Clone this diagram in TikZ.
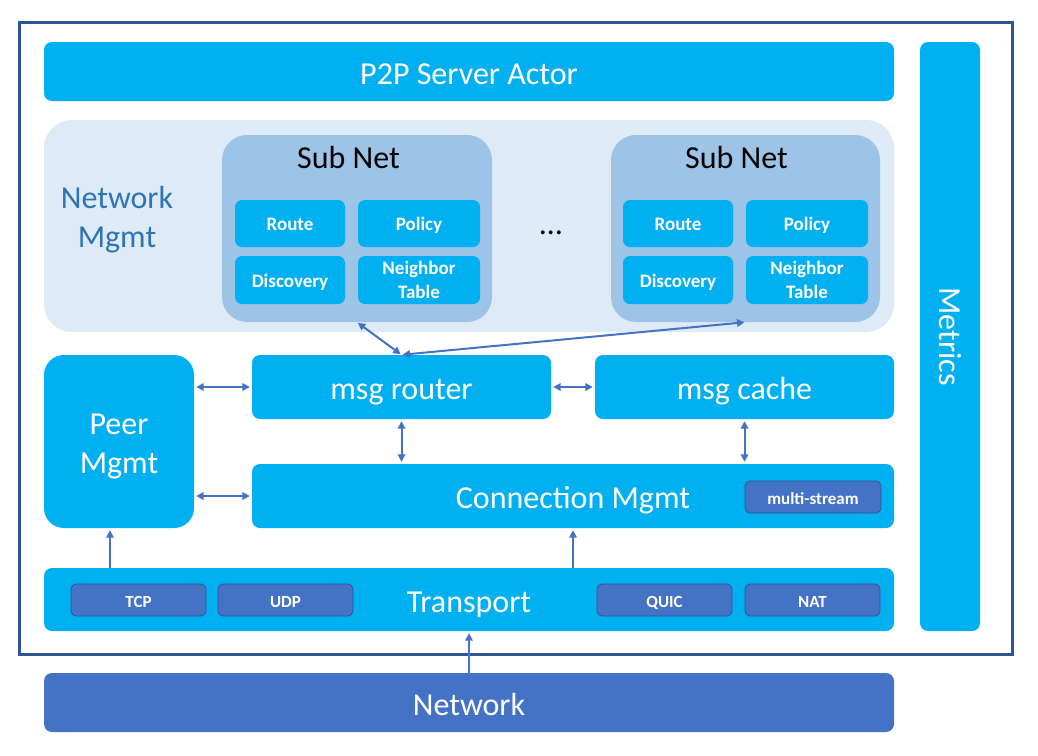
\documentclass[tikz,border=0pt]{standalone}
\usepackage{fontspec}
\setmainfont{Carlito}
\usetikzlibrary{arrows.meta,calc}
\definecolor{bright}{HTML}{00B0F0}
\definecolor{darkbox}{HTML}{4472C4}
\definecolor{darkline}{HTML}{2F5597}
\definecolor{framec}{HTML}{2F5597}
\definecolor{mgmtbg}{HTML}{DEEBF7}
\definecolor{subbg}{HTML}{9DC3E6}
\definecolor{mgmttext}{HTML}{2E75B6}
\definecolor{arrowc}{HTML}{4472C4}
\begin{document}
\begin{tikzpicture}[x=1pt,y=-1pt,
  sz/.style 2 args={minimum width=#1pt, minimum height=#2pt},
  big/.style={font=\fontsize{32}{39}\selectfont},
  bigline/.style={big, text height=30.4pt, text depth=5.4pt},
  box/.style={fill=bright, rounded corners=8pt, inner sep=0pt, text=white, align=center, bigline},
  smallbox/.style={fill=bright, rounded corners=7pt, inner sep=0pt, text=white, align=center, font=\fontsize{19}{23.5}\selectfont\bfseries, text height=17pt, text depth=2.5pt},
  twoline/.style={fill=bright, rounded corners=7pt, inner sep=0pt, text=white, align=center, font=\fontsize{19}{23.5}\selectfont\bfseries},
  tagbox/.style={fill=darkbox, draw=darkline, line width=0.8pt, rounded corners=5pt, inner sep=0pt, text=white, font=\fontsize{17}{20}\selectfont\bfseries, text height=17pt, text depth=1.7pt},
  arr/.style={draw=arrowc, line width=2pt, {Triangle[length=7.5pt,width=7.5pt]}-{Triangle[length=7.5pt,width=7.5pt]}},
  uparr/.style={draw=arrowc, line width=2pt, -{Triangle[length=7.5pt,width=7.5pt]}}
]
\useasboundingbox (0,0) rectangle (1038,755);
\fill[white] (0,0) rectangle (1038,755);

% outer frame
\node[draw=framec, line width=3pt, sz={993}{632}, inner sep=0pt] (frame) at (515.5,338) {};

% top bar and metrics
\node[box, sz={850}{59}] (p2p) at (469,71.5) {P2P Server Actor};
\node[box, sz={60}{589}] (metricsbar) at (950,336.5) {};
\node[text=white, big, rotate=-90, inner sep=0pt] (metrics) at (metricsbar.center) {Metrics};

% network mgmt area
\node[fill=mgmtbg, rounded corners=28pt, sz={850}{212}, inner sep=0pt] (netmgmt) at (469,226) {};
\node[text=mgmttext, big, align=center, inner sep=0pt] (netlabel) at (117,220) {Network\\Mgmt};

% subnet 1
\node[fill=subbg, rounded corners=25pt, sz={270}{187}, inner sep=0pt] (sub1) at (357,228.5) {};
\node[big, inner sep=0pt] (sub1title) at (348.5,158) {Sub Net};
\node[smallbox, sz={110}{47}] (route1) at (290,223.5) {Route};
\node[smallbox, sz={122}{47}] (policy1) at (419,223.5) {Policy};
\node[smallbox, sz={110}{48}] (disc1) at (290,280) {Discovery};
\node[twoline, sz={122}{48}] (neigh1) at (419,280) {Neighbor\\Table};

% dots
\node[big, inner sep=0pt] (dots) at (551,233) {…};

% subnet 2
\node[fill=subbg, rounded corners=25pt, sz={269}{187}, inner sep=0pt] (sub2) at (745.5,228.5) {};
\node[big, inner sep=0pt] (sub2title) at (736.5,158) {Sub Net};
\node[smallbox, sz={110}{47}] (route2) at (678,223.5) {Route};
\node[smallbox, sz={122}{47}] (policy2) at (807,223.5) {Policy};
\node[smallbox, sz={110}{48}] (disc2) at (678,280) {Discovery};
\node[twoline, sz={122}{48}] (neigh2) at (807,280) {Neighbor\\Table};

% middle row
\node[fill=bright, rounded corners=20pt, sz={150}{173}, inner sep=0pt] (peer) at (119,441.5) {};
\node[text=white, big, align=center, inner sep=0pt] (peertext) at (119,446) {Peer\\Mgmt};
\node[box, sz={299}{64}] (router) at (401.5,387) {msg router};
\node[box, sz={299}{64}] (cache) at (744.5,387) {msg cache};
\node[box, sz={642}{64}] (conn) at (573,496) {Connection Mgmt};
\node[tagbox, sz={136}{32}] (ms) at (813,497) {multi-stream};

% transport
\node[box, sz={850}{63}] (transport) at (469,599.5) {Transport};
\node[tagbox, sz={135}{32}] (tcp) at (138.5,600) {TCP};
\node[tagbox, sz={135}{32}] (udp) at (285.5,600) {UDP};
\node[tagbox, sz={135}{32}] (quic) at (664.5,600) {QUIC};
\node[tagbox, sz={135}{32}] (nat) at (812.5,600) {NAT};

% network
\node[box, fill=darkbox, sz={850}{59}] (network) at (469,702.5) {Network};

% connectors
\draw[arr, shorten <=1pt, shorten >=1pt] (sub1.south) -- (router.north);
\draw[arr, shorten <=1pt, shorten >=1pt] (sub2.south) -- (router.north);
\draw[arr, shorten <=2pt, shorten >=2pt] (peer.east |- router.west) -- (router.west);
\draw[arr, shorten <=2pt, shorten >=2pt] (peer.east |- conn.west) -- (conn.west);
\draw[arr, shorten <=2pt, shorten >=2pt] (router.east) -- (cache.west);
\draw[arr, shorten <=2pt, shorten >=2pt] (router.south) -- (router.south |- conn.north);
\draw[arr, shorten <=2pt, shorten >=2pt] (cache.south) -- (cache.south |- conn.north);
\draw[uparr, shorten >=2pt] ([xshift=-9pt]peer.south |- transport.north) -- ([xshift=-9pt]peer.south);
\draw[uparr, shorten >=2pt] (conn.south |- transport.north) -- (conn.south);
\draw[uparr, shorten >=2pt] (network.north) -- (transport.south);
\end{tikzpicture}
\end{document}
